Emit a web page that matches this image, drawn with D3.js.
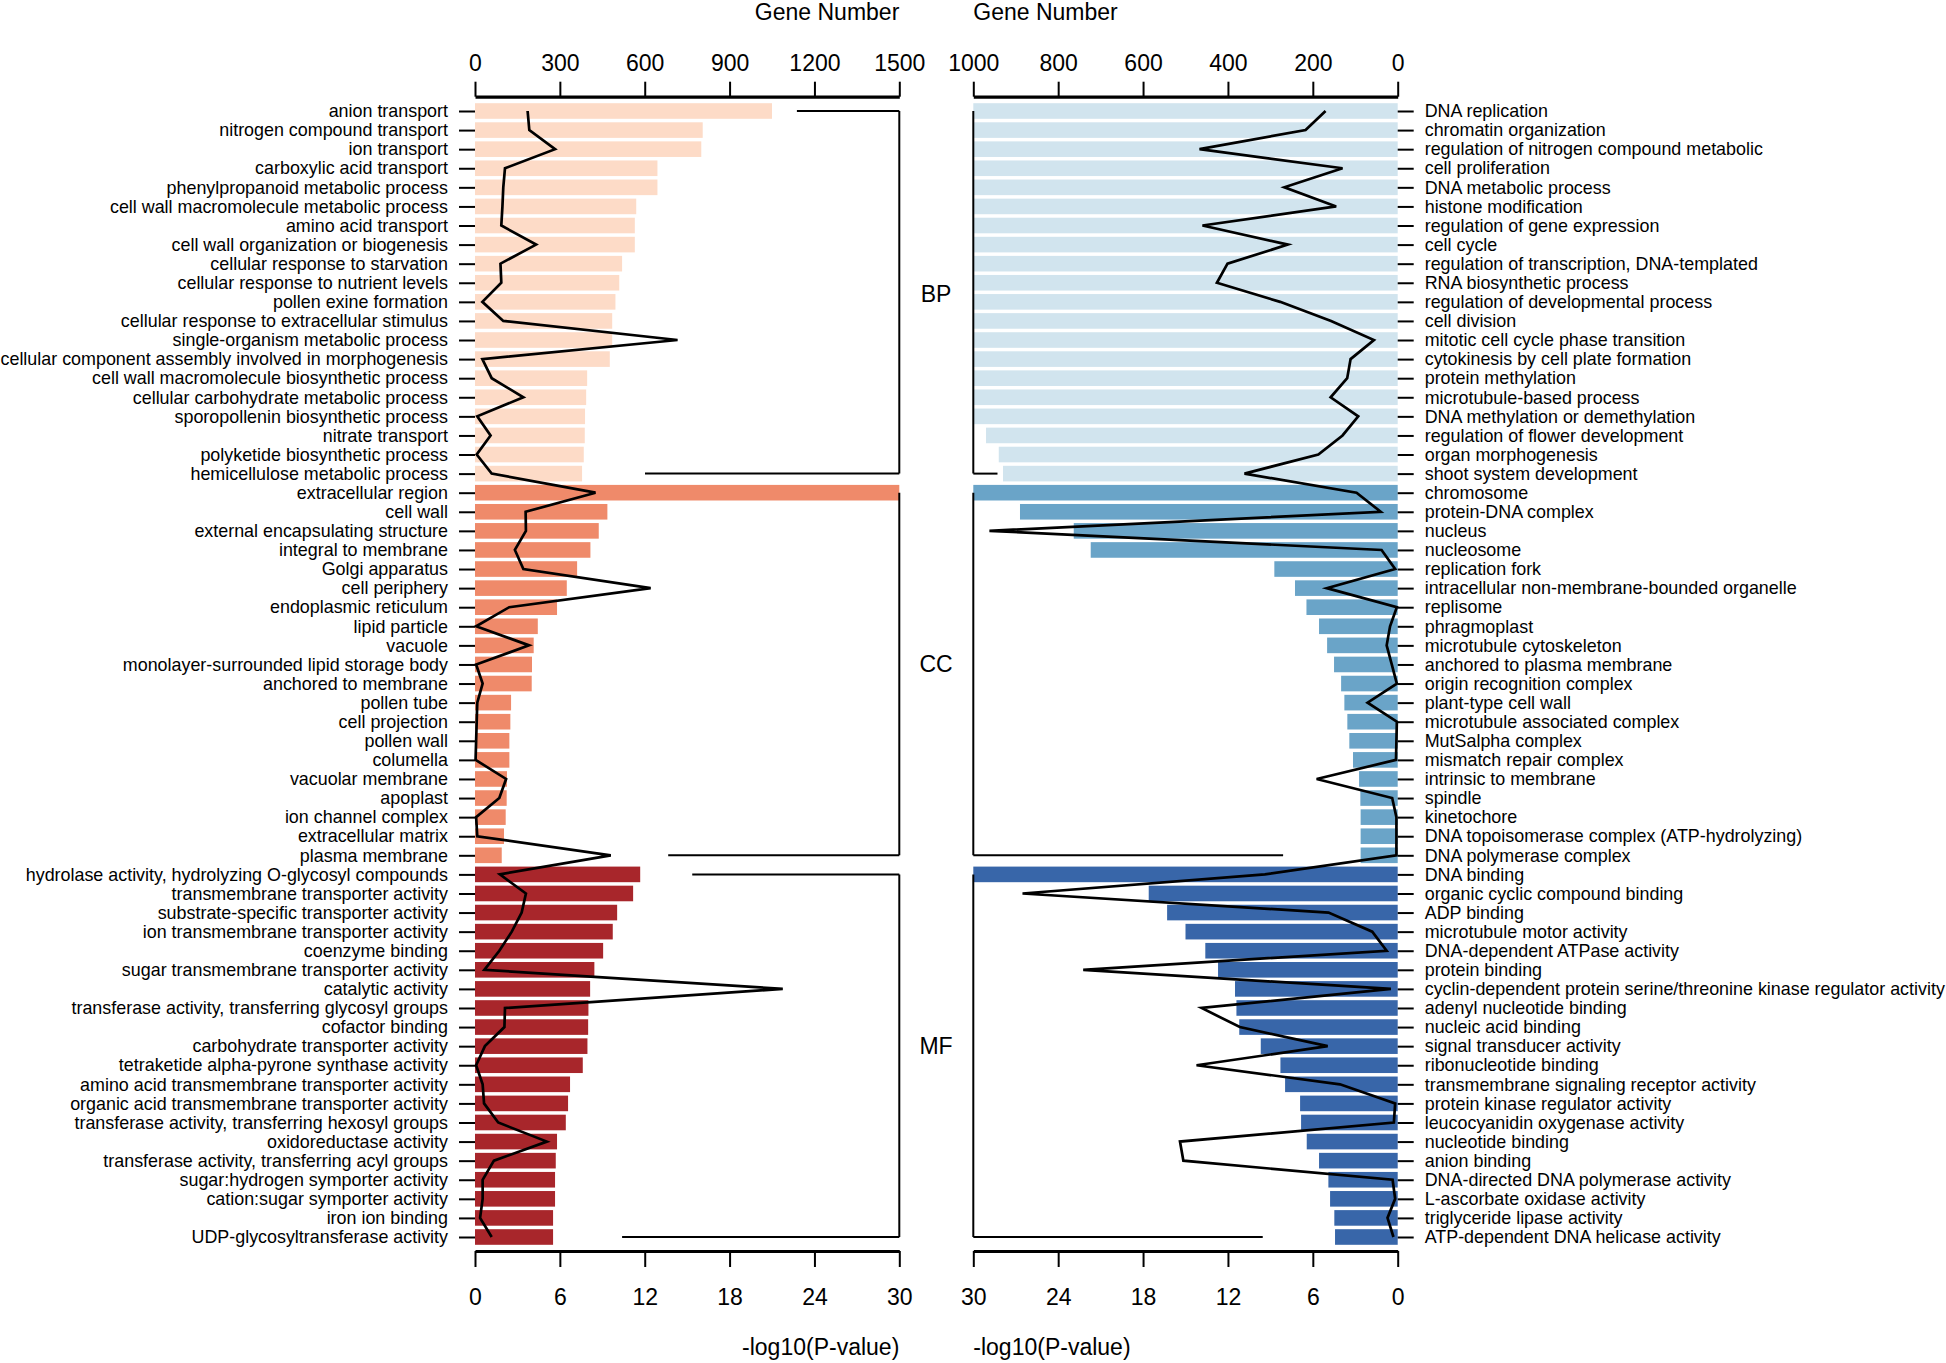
<!DOCTYPE html>
<html>
<head>
<meta charset="utf-8">
<script src="https://cdn.jsdelivr.net/npm/d3@7/dist/d3.min.js"></script>
<style>
  html, body { margin: 0; padding: 0; background: #fff; }
  svg { display: block; font-family: "Liberation Sans", Arial, Helvetica, sans-serif; }
</style>
</head>
<body>
<svg id="chart" width="1946" height="1363"></svg>
<script>
// ---------------- DATA ----------------
const groupNames = ["BP", "CC", "MF"];

const leftLabels = [
  "anion transport","nitrogen compound transport","ion transport","carboxylic acid transport",
  "phenylpropanoid metabolic process","cell wall macromolecule metabolic process","amino acid transport",
  "cell wall organization or biogenesis","cellular response to starvation","cellular response to nutrient levels",
  "pollen exine formation","cellular response to extracellular stimulus","single-organism metabolic process",
  "cellular component assembly involved in morphogenesis","cell wall macromolecule biosynthetic process",
  "cellular carbohydrate metabolic process","sporopollenin biosynthetic process","nitrate transport",
  "polyketide biosynthetic process","hemicellulose metabolic process",
  "extracellular region","cell wall","external encapsulating structure","integral to membrane","Golgi apparatus",
  "cell periphery","endoplasmic reticulum","lipid particle","vacuole","monolayer-surrounded lipid storage body",
  "anchored to membrane","pollen tube","cell projection","pollen wall","columella","vacuolar membrane",
  "apoplast","ion channel complex","extracellular matrix","plasma membrane",
  "hydrolase activity, hydrolyzing O-glycosyl compounds","transmembrane transporter activity",
  "substrate-specific transporter activity","ion transmembrane transporter activity","coenzyme binding",
  "sugar transmembrane transporter activity","catalytic activity","transferase activity, transferring glycosyl groups",
  "cofactor binding","carbohydrate transporter activity","tetraketide alpha-pyrone synthase activity",
  "amino acid transmembrane transporter activity","organic acid transmembrane transporter activity",
  "transferase activity, transferring hexosyl groups","oxidoreductase activity",
  "transferase activity, transferring acyl groups","sugar:hydrogen symporter activity",
  "cation:sugar symporter activity","iron ion binding","UDP-glycosyltransferase activity"
];
// -log10(P-value), capped at 30
const leftPval = [
  21.0,16.1,16.0,12.9,12.9,11.4,11.3,11.3,10.4,10.2,9.93,9.70,9.70,9.53,7.93,7.86,7.78,7.76,7.69,7.57,
  30,9.36,8.75,8.16,7.22,6.49,5.80,4.44,4.15,4.03,4.01,2.55,2.50,2.43,2.43,2.26,2.24,2.17,2.05,1.89,
  11.68,11.18,10.05,9.74,9.06,8.44,8.14,8.02,8.00,7.95,7.62,6.72,6.58,6.42,5.80,5.71,5.66,5.66,5.52,5.52
];
const leftGenes = [
  186,192,283,106,100,97,93,216,90,93,26,100,716,26,59,171,8,55,6,59,
  426,179,180,141,171,621,121,4,191,4,27,8,6,4,2,110,86,4,8,480,
  88,180,165,130,86,33,1088,106,104,35,4,27,32,82,254,67,27,27,18,59
];

const rightLabels = [
  "DNA replication","chromatin organization","regulation of nitrogen compound metabolic","cell proliferation",
  "DNA metabolic process","histone modification","regulation of gene expression","cell cycle",
  "regulation of transcription, DNA-templated","RNA biosynthetic process","regulation of developmental process",
  "cell division","mitotic cell cycle phase transition","cytokinesis by cell plate formation","protein methylation",
  "microtubule-based process","DNA methylation or demethylation","regulation of flower development",
  "organ morphogenesis","shoot system development",
  "chromosome","protein-DNA complex","nucleus","nucleosome","replication fork",
  "intracellular non-membrane-bounded organelle","replisome","phragmoplast","microtubule cytoskeleton",
  "anchored to plasma membrane","origin recognition complex","plant-type cell wall","microtubule associated complex",
  "MutSalpha complex","mismatch repair complex","intrinsic to membrane","spindle","kinetochore",
  "DNA topoisomerase complex (ATP-hydrolyzing)","DNA polymerase complex",
  "DNA binding","organic cyclic compound binding","ADP binding","microtubule motor activity",
  "DNA-dependent ATPase activity","protein binding","cyclin-dependent protein serine/threonine kinase regulator activity",
  "adenyl nucleotide binding","nucleic acid binding","signal transducer activity","ribonucleotide binding",
  "transmembrane signaling receptor activity","protein kinase regulator activity","leucocyanidin oxygenase activity",
  "nucleotide binding","anion binding","DNA-directed DNA polymerase activity","L-ascorbate oxidase activity",
  "triglyceride lipase activity","ATP-dependent DNA helicase activity"
];
const rightPval = [
  30,30,30,30,30,30,30,30,30,30,30,30,30,30,30,30,30,29.1,28.2,27.9,
  30,26.7,22.9,21.7,8.72,7.26,6.45,5.56,4.99,4.50,4.00,3.77,3.56,3.42,3.16,2.73,2.64,2.62,2.62,2.62,
  30,17.6,16.3,15.0,13.6,12.7,11.5,11.4,11.2,9.68,8.29,7.96,6.90,6.83,6.43,5.56,4.90,4.78,4.48,4.43
];
const rightGenes = [
  170,217,467,130,267,145,460,259,401,426,277,157,56,111,119,158,93,130,187,361,
  97,40,962,38,6,167,2,18,26,14,2,71,2,3,4,191,13,3,3,3,
  313,884,163,60,26,741,16,462,372,165,474,136,6,9,513,505,12,6,24,10
];

// group brackets (rows) and the extents of their end strokes, in gene-number units
const groupStart = [0, 20, 40];
const groupEnd   = [19, 39, 59];
const groupLabelRow = [9.6, 29, 49];
const bracketTopL    = [1138, null, 768];
const bracketBottomL = [601, 683, 520];
const bracketBottomR = [943, 270, 318];

const geneTicksL = [0, 300, 600, 900, 1200, 1500];
const geneTicksR = [1000, 800, 600, 400, 200, 0];
const pTicksL = [0, 6, 12, 18, 24, 30];
const pTicksR = [30, 24, 18, 12, 6, 0];

const colorsL = ["#FDDBC7", "#EF8A6A", "#A8262B"];
const colorsR = ["#D1E4EE", "#6AA4C8", "#3866A9"];

// ---------------- LAYOUT ----------------
const svg = d3.select("#chart");
const L0 = 475, L1 = 899.3, R0 = 1397.7, R1 = 973.3;
const topAxisY = 96.7, botAxisY = 1251;
const rowIdx = d3.range(leftLabels.length);
const y = d3.scalePoint().domain(rowIdx).range([111, 1237]);
const barH = 15.6;

const xPL = d3.scaleLinear().domain([0, 30]).range([L0, L1]);
const xGL = d3.scaleLinear().domain([0, 1500]).range([L0, L1]);
const xPR = d3.scaleLinear().domain([0, 30]).range([R0, R1]);
const xGR = d3.scaleLinear().domain([0, 1000]).range([R0, R1]);

const grp = i => Math.floor(i / 20);
const fmt = d3.format("d");

// bars
svg.append("g").selectAll("rect").data(rowIdx).join("rect")
  .attr("x", L0)
  .attr("y", i => y(i) - barH / 2)
  .attr("width", i => xPL(Math.min(leftPval[i], 30)) - L0)
  .attr("height", barH)
  .attr("fill", i => colorsL[grp(i)]);

svg.append("g").selectAll("rect").data(rowIdx).join("rect")
  .attr("x", i => xPR(Math.min(rightPval[i], 30)))
  .attr("y", i => y(i) - barH / 2)
  .attr("width", i => R0 - xPR(Math.min(rightPval[i], 30)))
  .attr("height", barH)
  .attr("fill", i => colorsR[grp(i)]);

// brackets
const br = svg.append("g").attr("stroke", "#000").attr("stroke-width", 2).attr("fill", "none");
groupNames.forEach((g, k) => {
  const ys = y(groupStart[k]), ye = y(groupEnd[k]);
  br.append("line").attr("x1", L1).attr("x2", L1).attr("y1", ys).attr("y2", ye);
  if (bracketTopL[k] !== null)
    br.append("line").attr("x1", xGL(bracketTopL[k])).attr("x2", L1).attr("y1", ys).attr("y2", ys);
  br.append("line").attr("x1", xGL(bracketBottomL[k])).attr("x2", L1).attr("y1", ye).attr("y2", ye);
  br.append("line").attr("x1", R1).attr("x2", R1).attr("y1", ys).attr("y2", ye);
  br.append("line").attr("x1", R1).attr("x2", xGR(bracketBottomR[k])).attr("y1", ye).attr("y2", ye);
  svg.append("text").attr("x", 936).attr("y", y(0) + groupLabelRow[k] * y.step())
    .attr("text-anchor", "middle").attr("dominant-baseline", "central")
    .attr("font-size", 23).text(g);
});

// gene-number lines
svg.append("path").datum(rowIdx)
  .attr("fill", "none").attr("stroke", "#000").attr("stroke-width", 2.7).attr("stroke-linejoin", "miter")
  .attr("d", d3.line().x(i => xGL(leftGenes[i])).y(i => y(i)));
svg.append("path").datum(rowIdx)
  .attr("fill", "none").attr("stroke", "#000").attr("stroke-width", 2.7).attr("stroke-linejoin", "miter")
  .attr("d", d3.line().x(i => xGR(rightGenes[i])).y(i => y(i)));

// axes
function styleAxis(g, fs) {
  g.select(".domain").attr("stroke-width", 3.2);
  g.selectAll(".tick line").attr("stroke-width", 2);
  g.selectAll("text").attr("font-size", fs).attr("fill", "#000")
    .attr("font-family", "'Liberation Sans', Arial, Helvetica, sans-serif");
}
svg.append("g").attr("transform", `translate(0,${topAxisY})`)
  .call(d3.axisTop(xGL).tickValues(geneTicksL).tickFormat(fmt).tickSize(15).tickSizeOuter(0).tickPadding(11))
  .call(g => styleAxis(g, 23));
svg.append("g").attr("transform", `translate(0,${topAxisY})`)
  .call(d3.axisTop(xGR).tickValues(geneTicksR).tickFormat(fmt).tickSize(15).tickSizeOuter(0).tickPadding(11))
  .call(g => styleAxis(g, 23));
svg.append("g").attr("transform", `translate(0,${botAxisY})`)
  .call(d3.axisBottom(xPL).tickValues(pTicksL).tickFormat(fmt).tickSize(16).tickSizeOuter(0).tickPadding(22))
  .call(g => styleAxis(g, 23));
svg.append("g").attr("transform", `translate(0,${botAxisY})`)
  .call(d3.axisBottom(xPR).tickValues(pTicksR).tickFormat(fmt).tickSize(16).tickSizeOuter(0).tickPadding(22))
  .call(g => styleAxis(g, 23));

// category axes
svg.append("g").attr("transform", `translate(${L0},0)`)
  .call(d3.axisLeft(y).tickFormat(i => leftLabels[i]).tickSize(16).tickPadding(11))
  .call(g => { g.select(".domain").remove(); styleAxis(g, 17.9); });
svg.append("g").attr("transform", `translate(${R0},0)`)
  .call(d3.axisRight(y).tickFormat(i => rightLabels[i]).tickSize(16).tickPadding(11))
  .call(g => { g.select(".domain").remove(); styleAxis(g, 17.9); });

// titles
svg.append("text").attr("x", L1).attr("y", 20).attr("text-anchor", "end").attr("font-size", 23).text("Gene Number");
svg.append("text").attr("x", R1).attr("y", 20).attr("text-anchor", "start").attr("font-size", 23).text("Gene Number");
svg.append("text").attr("x", L1).attr("y", 1355).attr("text-anchor", "end").attr("font-size", 23).text("-log10(P-value)");
svg.append("text").attr("x", R1).attr("y", 1355).attr("text-anchor", "start").attr("font-size", 23).text("-log10(P-value)");
</script>
</body>
</html>
